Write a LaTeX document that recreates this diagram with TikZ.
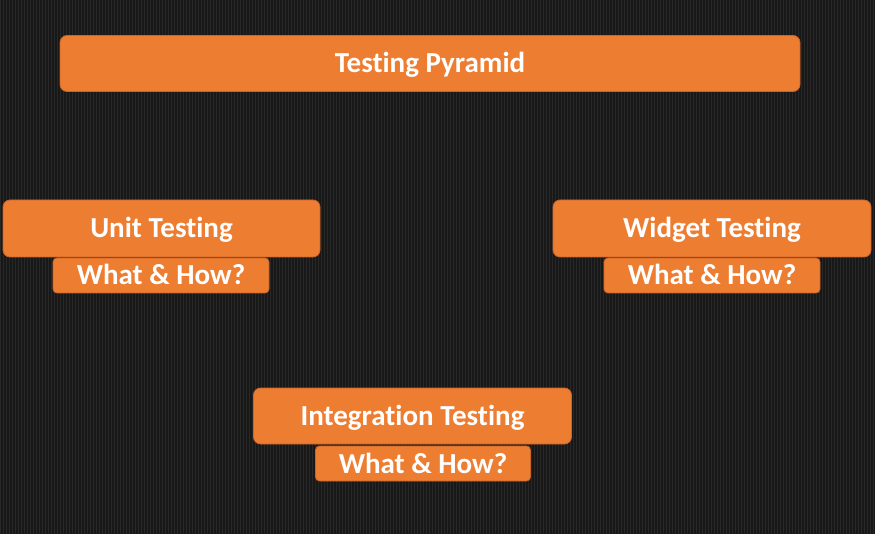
\documentclass[tikz,border=0pt]{standalone}
\usepackage{fontspec}
\setmainfont{Carlito}[Ligatures=NoCommon]
\definecolor{bgdark}{HTML}{181818}
\definecolor{bgstripe}{HTML}{282828}
\definecolor{boxorange}{HTML}{ED7D31}
\definecolor{boxedge}{HTML}{C9642A}
\tikzset{
  box/.style={draw=boxedge, line width=0.8pt, fill=boxorange, rounded corners=7pt,
    text=white, font=\fontsize{29}{33}\selectfont\bfseries, inner sep=0pt, outer sep=0pt,
    text height=19pt, text depth=0pt},
  subbox/.style={box, rounded corners=4pt, font=\fontsize{29}{33}\selectfont\bfseries}
}
\begin{document}
\begin{tikzpicture}[x=1pt,y=-1pt]
\useasboundingbox (0,0) rectangle (875,534);
\fill[bgdark] (0,0) rectangle (875,534);
\foreach \i in {0,3,...,873} \fill[bgstripe] (\i,0) rectangle (\i+1,534);
\node[box, minimum width=740pt, minimum height=56pt] (title) at (430,63.5) {Testing Pyramid};
\node[box, minimum width=317pt, minimum height=57pt] (unit) at (161.5,228.5) {Unit Testing};
\node[subbox, minimum width=216pt, minimum height=35pt] (unitq) at (161,275.5) {What \& How?};
\node[box, minimum width=318pt, minimum height=57pt] (widget) at (712,228.5) {Widget Testing};
\node[subbox, minimum width=216pt, minimum height=35pt] (widgetq) at (712,275.5) {What \& How?};
\node[box, minimum width=318pt, minimum height=56pt] (integ) at (412.5,416) {Integration Testing};
\node[subbox, minimum width=215pt, minimum height=35pt] (integq) at (423,463.5) {What \& How?};
\end{tikzpicture}
\end{document}
